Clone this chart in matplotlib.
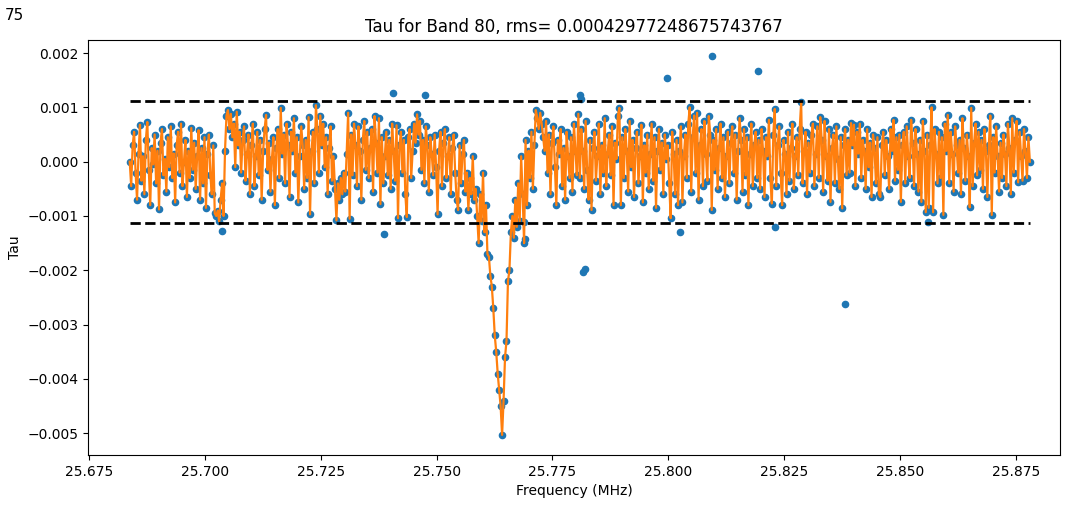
import numpy as np
import matplotlib
matplotlib.use("Agg")
import matplotlib.pyplot as plt
from matplotlib.ticker import MultipleLocator, ScalarFormatter

# channel grid (MHz)
freq_start = 25.6838
freq_stop = 25.8780

# tau values along the band, in units of 1e-5
tau_e5 = [
    # 25.684 - 25.703
    0, -45, 30, 55, -20, -70, 15, 68, -35, 10, -60, 40, 73, -15, -80, 25, -5, 50, -40, 20,
    -88, 35, 60, -25, 5, -55, 45, -10, 65, -30, 15, -75, 30, 55, -20, 70, -45, 0, 40, -65,
    20, -30, 62, -15, 35, -50, 10, 58, -70, 25, -40, 45, -85, 15, 50, -25, -60, 30, -95, -100,
    # 25.703 - 25.723
    -90, -110, -70, -40, -100, 20, 85, 95, 60, 88, 45, 70, -10, 92, 30, 55, -20, 40, 65, -35,
    15, 50, -60, 30, 70, -45, 10, 55, -25, 40, -70, 20, 60, 86, -15, 35, -55, 5, 45, -80,
    25, 60, -30, 99, 15, 50, -40, 70, 30, -65, 55, 20, 80, -20, 45, -75, 10, 65, 30, -50,
    # 25.723 - 25.742
    40, -30, 82, -97, 20, 55, -40, 104, 60, -20, 85, 30, 70, -10, 45, -60, 25, 65, -35, 10,
    -50, -108, -40, -70, -30, -60, -20, -55, 15, 90, -105, 50, -25, 70, 30, -45, 65, 20, -70, 40,
    75, -15, 55, -30, 25, 60, -55, 84, 35, -20, 80, -78, 45, -40, 10, 55, -25, 40, -50, 70,
    20, -35,
    # 25.742 - 25.757
    67, -104, 30, 55, -20, 40, -60, -102, 45, 60, -30, 20, 70, 35, 87, 50, 75, -15, 40, -40,
    65, 30, -55, 45, 15, -25, 50, -10, -97, 20, 55, -45, 35, 60, -30, 10, 45, -60, 25, 50,
    -20, -70, -89, 30, -40, 15, 40, -55, -20,
    # absorption dip 25.757 - 25.768
    -89, -30, -60, 10, -70, -50, -100, -150, -60, -110, -20, -130, -80, -170,
    -175, -210, -230, -270, -320, -350, -390, -420, -450, -503, -440, -360, -330,
    -220, -200, -130, -100, -140, -70, -120, -40, -110, 10, -60, -150,
    # 25.768 - 25.781
    40, -80, 20, -30, 55, -50, 30, 95, 80, 60, 90, 70, 45, 20, 75,
    -20, 50, -60, 35, 65, -10, -80, 40, 15, 60, -45, 25, -70, 55, 10, -30, 45, -55, 70, 20,
    -25, 88,
    # 25.781 - 25.800
    -30, 60, 20, -50, 75, -15, -70, 40, -89, 25, 55, -35, 10, 70, -60, 30, -20, 80, -45, 15,
    50, -25, 65, -80, 35, 5, 85, 99, -80, 45, -30, 60, 20, -55, 75, -10, 40, -65, 25, 55,
    -40, 10, 68, -75, 30, -20, 50, -50, 15, 70, -35, 45, -85, 20, 60, -15, 35, -60, 50, 5,
    # 25.800 - 25.820
    30, -40, -104, 55, 15, -60, 40, -80, 20, 65, -75, 10, 50, -30, 70, 100, -55, 45, 85, -20,
    90, -70, 30, 60, -45, 75, 15, -35, 84, 50, -89, 40, -15, 60, -50, 25, 70, -30, 45, -65,
    10, 55, -40, 35, 65, -20, 50, -70, 20, 80, 40, -55, 60, -25, 45, -80, 15, 70, -45, 30,
    55, -30,
    # 25.820 - 25.839
    40, -50, 60, 20, -65, 45, 10, 77, -30, -77, 50, 97, -45, 30, 65, -20, -80, 40, 15, -60,
    55, -35, 25, 70, -50, 10, 45, -25, 60, 110, -40, 20, 55, -60, 35, -20, 50, 70, -45, 15,
    65, -30, 82, 40, -55, 75, 10, -35, 60, -74, 25, 50, -40, 65, 5, -50, 45, -86, 30, 60,
    -25, 40,
    # 25.839 - 25.858
    -20, 71, 30, 68, -45, 55, 15, 70, -30, 40, 20, -50, 60, -10, 35, -65, 50, 25, -40, 45,
    -60, -65, 30, 55, -25, 40, 10, -50, 60, 20, 77, -35, 45, -15, 50, -74, 30, 55, -40, 65,
    10, -30, 77, 35, -45, 60, 15, -55, 40, -74, 75, 20, -93, 50, -85, 30, 100, -93, 60, 15,
    -40, 55,
    # 25.858 - 25.878
    -30, 45, -98, 70, 20, 86, -40, 55, 15, -55, 65, 30, -20, 40, -60, 80, 25, -35, 50, 10,
    -84, 99, -45, 35, 70, -25, 55, -15, 40, -50, 60, 20, -65, 30, 85, -98, 45, -20, 65, 10,
    -55, 35, -30, 50, 15, -45, 70, 25, -60, 80, -20, 40, 75, -38, 55, 10, -35, 60, 20, -30,
    45, 0,
]

# flagged points (drawn as dots only)
outlier_freq = [25.7037, 25.7386, 25.7406, 25.7475, 25.7688, 25.7690, 25.7809, 25.7811,
                25.7816, 25.7820, 25.7997, 25.8025, 25.8094, 25.8193, 25.8230, 25.8381, 25.8560]
outlier_tau_e5 = [-128, -133, 126, 123, -111, -143, 123, 116,
                  -203, -198, 154, -130, 195, 167, -121, -262, -111]

threshold = 0.00112
title = "Tau for Band 80, rms= 0.00042977248675743767"

tau = np.array(tau_e5) * 1e-5
freq = np.linspace(freq_start, freq_stop, len(tau))
o_tau = np.array(outlier_tau_e5) * 1e-5
o_freq = np.array(outlier_freq)

fig = plt.figure(figsize=(10.65, 5.08), dpi=100)
ax = fig.add_axes([88 / 1065, 1 - 455 / 508, (1060 - 88) / 1065, (455 - 40) / 508])

all_f = np.concatenate([freq, o_freq])
all_t = np.concatenate([tau, o_tau])
order = np.argsort(all_f)
ax.scatter(all_f[order], all_t[order], s=20, color="#1f77b4", zorder=2)
ax.plot(freq, tau, color="#ff7f0e", lw=1.6, zorder=3)
ax.hlines([threshold, -threshold], freq_start, freq_stop, colors="black",
          linestyles="--", lw=2, zorder=4)

ax.set_xlim(25.6748, 25.8845)
ax.set_ylim(-0.0054, 0.00224)
ax.xaxis.set_major_locator(MultipleLocator(0.025))
ax.yaxis.set_major_locator(MultipleLocator(0.001))
fmt = ScalarFormatter(useOffset=False)
ax.xaxis.set_major_formatter(fmt)
ax.set_title(title, fontsize=12)
ax.set_xlabel("Frequency (MHz)")
ax.set_ylabel("Tau")

fig.text(0.004, 0.985, "75", fontsize=11, va="top", ha="left")

fig.savefig("out.png", dpi=100)
